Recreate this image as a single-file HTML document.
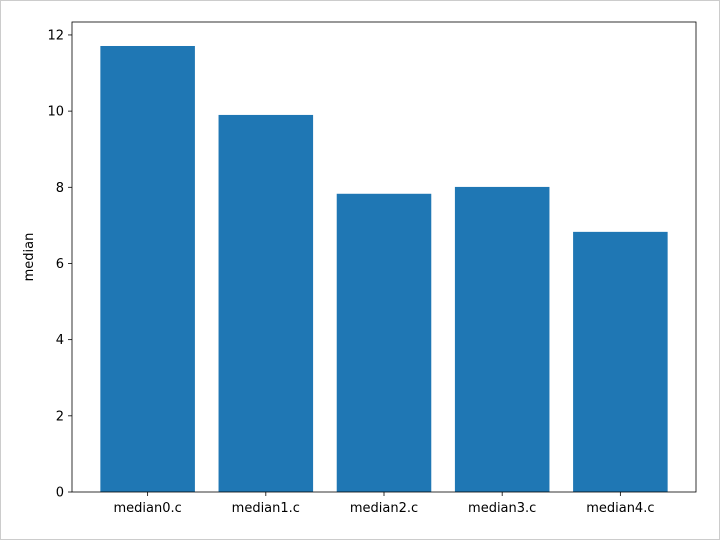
<!DOCTYPE html>
<html><head><meta charset="utf-8"><style>
body{margin:0;background:#fff;}
svg{display:block;font-family:"DejaVu Sans","Liberation Sans",sans-serif;}
</style></head><body>
<svg id="chart" width="720" height="540">
<rect x="0.5" y="0.5" width="719" height="539" fill="#fff" stroke="#ccc"/>
</svg>
<script>
const categories=["median0.c","median1.c","median2.c","median3.c","median4.c"];
const values=[11.71,9.9,7.83,8.01,6.83];
const yTicks=[0,2,4,6,8,10,12];
const NS="http://www.w3.org/2000/svg";
const svg=document.getElementById('chart');
const L=72,R=696,T=22,B=492,yMax=12.34;
const xMin=-0.64,xMax=4.64;
function xs(v){return L+(v-xMin)/(xMax-xMin)*(R-L);}
function ys(v){return B-v/yMax*(B-T);}
function mk(t,a,parent){const e=document.createElementNS(NS,t);for(const k in a)e.setAttribute(k,a[k]);(parent||svg).appendChild(e);return e;}
values.forEach((v,i)=>{
 const r=mk('rect',{x:xs(i-0.4),y:ys(v),width:xs(i+0.4)-xs(i-0.4),height:B-ys(v),fill:'#1f77b4'});
 
 
 const tk=mk('line',{x1:xs(i),x2:xs(i),y1:B,y2:B+4,stroke:'#000','stroke-width':0.8});
 
 
 const t=mk('text',{x:xs(i),y:B+20,'text-anchor':'middle','font-size':13,fill:'#000'});
 t.textContent=categories[i];
 
 
});
yTicks.forEach(v=>{
 const tk=mk('line',{x1:L-4,x2:L,y1:ys(v),y2:ys(v),stroke:'#000','stroke-width':0.8});
 
 
 const t=mk('text',{x:L-8,y:ys(v)+4.5,'text-anchor':'end','font-size':13,fill:'#000'});
 t.textContent=v;
 
 
});
const f=mk('rect',{x:L,y:T,width:R-L,height:B-T,fill:'none',stroke:'#000','stroke-width':0.8});


const yt=mk('text',{x:33,y:(T+B)/2,'text-anchor':'middle','font-size':13,fill:'#000',transform:`rotate(-90 33 ${(T+B)/2})`});
yt.textContent='median';


</script>
</body></html>
